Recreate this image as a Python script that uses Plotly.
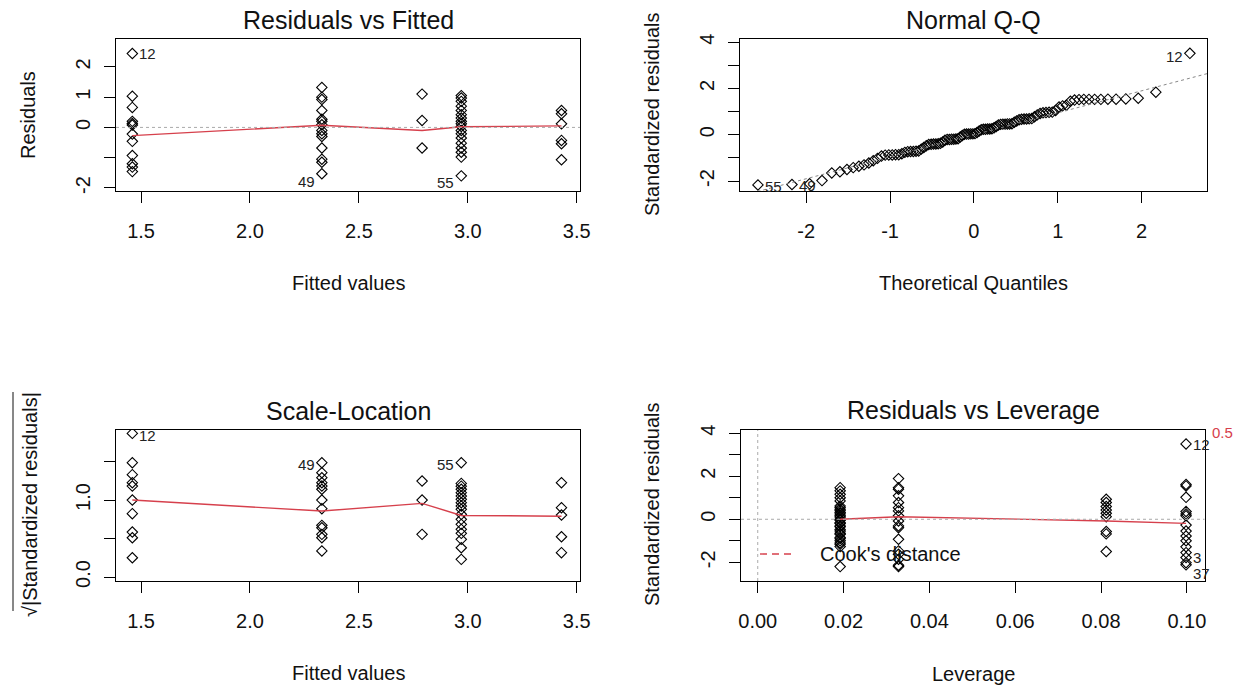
import plotly.graph_objects as go
from statistics import NormalDist

W, H = 1239, 687
FONT = "Liberation Sans, Arial, sans-serif"
RED = "#d6404c"
INK = "#111111"

# ---------------- data ----------------
# Residuals vs Fitted
fitted_levels = [1.46, 2.33, 2.79, 2.97, 3.43]
res_g1 = [2.44, 1.03, 0.66, 0.20, 0.13, 0.08, -0.22, -0.46, -0.93, -1.20, -1.31, -1.46]
res_g2 = [1.32, 1.00, 0.92, 0.56, 0.27, 0.20, 0.09, -0.10, -0.21, -0.30, -0.68, -1.05, -1.15, -1.53]
res_g3 = [1.10, 0.23, -0.68]
res_g4 = [1.05, 0.97, 0.86, 0.70, 0.56, 0.42, 0.31, 0.20, 0.12, 0.03, -0.10, -0.21,
          -0.35, -0.52, -0.68, -0.82, -0.98, -1.60]
res_g5 = [0.56, 0.45, 0.12, -0.43, -0.54, -1.07]
rvf_smooth = [-0.27, 0.07, -0.10, 0.02, 0.05]

# Normal Q-Q (sorted standardized residuals)
qq_std_resid = [
    -2.17, -2.15, -2.12, -1.98, -1.65, -1.60, -1.50, -1.42, -1.36, -1.30,
    -1.22, -1.12, -1.02, -0.92, -0.88, -0.87, -0.87, -0.86, -0.86, -0.82,
    -0.76, -0.73, -0.72, -0.72, -0.71, -0.70, -0.62, -0.55, -0.47, -0.42,
    -0.41, -0.40, -0.40, -0.39, -0.37, -0.31, -0.24, -0.20, -0.20, -0.19,
    -0.19, -0.18, -0.17, -0.10, -0.03, 0.02, 0.03, 0.03, 0.04, 0.04,
    0.05, 0.10, 0.16, 0.22, 0.24, 0.24, 0.25, 0.25, 0.26, 0.30,
    0.36, 0.42, 0.45, 0.46, 0.46, 0.47, 0.47, 0.48, 0.54, 0.60,
    0.65, 0.67, 0.68, 0.68, 0.69, 0.70, 0.78, 0.86, 0.92, 0.95,
    0.96, 0.97, 0.98, 1.05, 1.20, 1.25, 1.28, 1.45, 1.50, 1.52,
    1.53, 1.53, 1.53, 1.53, 1.54, 1.54, 1.55, 1.58, 1.84, 3.52,
]
qq_line_intercept = 0.0
qq_line_slope = 0.95

# Scale-Location
sl_g1 = [1.866, 1.485, 1.33, 1.225, 1.182, 1.0, 0.823, 0.584, 0.51, 0.25]
sl_g2 = [1.485, 1.355, 1.29, 1.225, 1.182, 1.14, 1.0, 0.887, 0.671, 0.64, 0.554, 0.51, 0.338]
sl_g3 = [1.247, 1.0, 0.554]
sl_g4 = [1.485, 1.216, 1.18, 1.14, 1.095, 1.052, 1.009, 0.965, 0.922, 0.879, 0.814,
         0.749, 0.684, 0.619, 0.567, 0.489, 0.38, 0.229]
sl_g5 = [1.225, 0.9, 0.805, 0.523, 0.316]
sl_smooth = [1.0, 0.857, 0.957, 0.80, 0.79]

# Residuals vs Leverage
leverage_levels = [0.0192, 0.0328, 0.0812, 0.0998]
sr_l1 = [1.47, 1.32, 1.16, 1.0, 0.85, 0.62, 0.55, 0.47, 0.40, 0.31, 0.25, 0.16, 0.10, 0.0,
         -0.05, -0.16, -0.20, -0.31, -0.35, -0.47, -0.55, -0.65, -0.70, -0.85, -0.90,
         -1.0, -1.10, -1.16, -1.27, -2.2]
sr_l2 = [1.89, 1.47, 1.40, 1.09, 0.78, 0.54, 0.39, 0.16, -0.08, -0.31, -0.39, -0.93,
         -1.47, -1.63, -1.86, -2.14, -2.2]
sr_l3 = [0.93, 0.78, 0.59, 0.43, 0.28, 0.12, -0.57, -0.68, -1.5]
sr_l4 = [3.50, 1.62, 1.55, 1.02, 0.36, 0.25, 0.16, -0.27, -0.55, -0.78, -1.0, -1.28,
         -1.55, -1.78, -2.02, -2.12]
rvl_smooth = [0.0, 0.12, -0.08, -0.19]

# tick labels
fit_ticks = [1.5, 2.0, 2.5, 3.0, 3.5]
fit_ticktext = ["1.5", "2.0", "2.5", "3.0", "3.5"]
res_ticks = [-2, -1, 0, 1, 2]
res_ticktext = ["-2", "", "0", "1", "2"]
qqx_ticks = [-2, -1, 0, 1, 2]
qqx_ticktext = ["-2", "-1", "0", "1", "2"]
sr_ticks = [-2, -1, 0, 1, 2, 3, 4]
sr_ticktext = ["-2", "", "0", "", "2", "", "4"]
sl_ticks = [0.0, 0.5, 1.0, 1.5]
sl_ticktext = ["0.0", "", "1.0", ""]
lev_ticks = [0.00, 0.02, 0.04, 0.06, 0.08, 0.10]
lev_ticktext = ["0.00", "0.02", "0.04", "0.06", "0.08", "0.10"]

# ---------------- layout geometry (pixels) ----------------
def px_x(p):
    return p / W

def px_y(p):
    return 1 - p / H

P1 = dict(x=(116, 580), y=(39, 191))
P2 = dict(x=(740, 1207), y=(39, 191))
P3 = dict(x=(116, 580), y=(430, 581))
P4 = dict(x=(741, 1204.5), y=(430, 581))

fig = go.Figure()

def pts(xv, yv, xa, ya):
    fig.add_trace(go.Scatter(
        x=xv, y=yv, mode="markers", xaxis=xa, yaxis=ya, showlegend=False,
        marker=dict(symbol="diamond-open", size=8, color="black", line=dict(width=1.1, color="black")),
        hoverinfo="x+y"))

def smooth(xv, yv, xa, ya, dash="solid"):
    fig.add_trace(go.Scatter(
        x=xv, y=yv, mode="lines", xaxis=xa, yaxis=ya, showlegend=False,
        line=dict(color=RED, width=1.4, dash=dash), hoverinfo="skip"))

# Panel 1
for lvl, grp in zip(fitted_levels, [res_g1, res_g2, res_g3, res_g4, res_g5]):
    pts([lvl] * len(grp), grp, "x", "y")
smooth(fitted_levels, rvf_smooth, "x", "y")

# Panel 2
n = len(qq_std_resid)
nd = NormalDist()
qq_theo = [nd.inv_cdf((i + 0.5) / n) for i in range(n)]
pts(qq_theo, qq_std_resid, "x2", "y2")
qq_xr = [-2.79, 2.78]
fig.add_trace(go.Scatter(
    x=qq_xr, y=[qq_line_intercept + qq_line_slope * v for v in qq_xr], mode="lines",
    xaxis="x2", yaxis="y2", showlegend=False, hoverinfo="skip",
    line=dict(color="#888888", width=1, dash="dot")))

# Panel 3
for lvl, grp in zip(fitted_levels, [sl_g1, sl_g2, sl_g3, sl_g4, sl_g5]):
    pts([lvl] * len(grp), grp, "x3", "y3")
smooth(fitted_levels, sl_smooth, "x3", "y3")

# Panel 4
for lvl, grp in zip(leverage_levels, [sr_l1, sr_l2, sr_l3, sr_l4]):
    pts([lvl] * len(grp), grp, "x4", "y4")
smooth(leverage_levels, rvl_smooth, "x4", "y4")

# ---------------- axes ----------------
def axis(domain, rng, tv, tt, anchor, is_y=False):
    d = dict(
        domain=domain, range=rng, tickmode="array", tickvals=tv, ticktext=tt,
        showline=True, mirror=True, linecolor="black", linewidth=1,
        ticks="outside", ticklen=11, tickwidth=1, tickcolor="black",
        showgrid=False, zeroline=False, anchor=anchor, automargin=False,
        tickfont=dict(family=FONT, size=20, color=INK),
    )
    if is_y:
        d["tickangle"] = -90
        d["ticklabelstandoff"] = 6
    else:
        d["ticklabelstandoff"] = 11
    return d

def dom_x(P):
    return [px_x(P["x"][0]), px_x(P["x"][1])]

def dom_y(P):
    return [px_y(P["y"][1]), px_y(P["y"][0])]

fig.update_layout(
    width=W, height=H, margin=dict(l=0, r=0, t=0, b=0),
    paper_bgcolor="white", plot_bgcolor="white", showlegend=False,
    font=dict(family=FONT, color=INK),
    xaxis=axis(dom_x(P1), [1.385, 3.515], fit_ticks, fit_ticktext, "y"),
    yaxis=axis(dom_y(P1), [-2.10, 2.92], res_ticks, res_ticktext, "x", True),
    xaxis2=axis(dom_x(P2), [-2.79, 2.78], qqx_ticks, qqx_ticktext, "y2"),
    yaxis2=axis(dom_y(P2), [-2.43, 4.14], sr_ticks, sr_ticktext, "x2", True),
    xaxis3=axis(dom_x(P3), [1.385, 3.515], fit_ticks, fit_ticktext, "y3"),
    yaxis3=axis(dom_y(P3), [-0.052, 1.91], sl_ticks, sl_ticktext, "x3", True),
    xaxis4=axis(dom_x(P4), [-0.0039, 0.1041], lev_ticks, lev_ticktext, "y4"),
    yaxis4=axis(dom_y(P4), [-2.87, 4.15], sr_ticks, sr_ticktext, "x4", True),
)

# reference lines (gray dotted)
ref = dict(color="#aaaaaa", width=1, dash="dot")
fig.add_shape(type="line", xref="x domain", yref="y", x0=0, x1=1, y0=0, y1=0, line=ref)
fig.add_shape(type="line", xref="x4 domain", yref="y4", x0=0, x1=1, y0=0, y1=0, line=ref)
fig.add_shape(type="line", xref="x4", yref="y4 domain", x0=0, x1=0, y0=0, y1=1, line=ref)

# ---------------- text ----------------
ann = []

def ptext(txt, x, y, size=20, angle=0, color=INK, xanchor="center"):
    ann.append(dict(text=txt, x=px_x(x), y=px_y(y), xref="paper", yref="paper",
                    showarrow=False, textangle=angle, xanchor=xanchor, yanchor="middle",
                    font=dict(family=FONT, size=size, color=color)))

# titles
ptext("Residuals vs Fitted", 348, 20, 25)
ptext("Normal Q-Q", 973, 20, 25)
ptext("Scale-Location", 348, 411, 25)
ptext("Residuals vs Leverage", 973, 410, 25)
# axis titles
ptext("Fitted values", 348, 283)
ptext("Theoretical Quantiles", 973, 283)
ptext("Fitted values", 348, 673)
ptext("Leverage", 973, 674)
ptext("Residuals", 28, 115, angle=-90)
ptext("Standardized residuals", 652, 115, angle=-90)
ptext("√|Standardized residuals|", 30, 505, angle=-90)
ptext("Standardized residuals", 652, 505, angle=-90)
# Cook's distance legend + contour label
ptext("Cook's distance", 818, 554, 20, xanchor="left")
ptext("0.5", 1222, 432, 15, color=RED)
fig.add_shape(type="line", xref="paper", yref="paper", x0=px_x(760), x1=px_x(796),
              y0=px_y(554), y1=px_y(554), line=dict(color=RED, width=1.4, dash="7px,5px"))
# radical overline
fig.add_shape(type="line", xref="paper", yref="paper", x0=px_x(13), x1=px_x(13),
              y0=px_y(392), y1=px_y(611), line=dict(color=INK, width=1))

def idlabel(txt, x, y, xa, ya, side, yshift=0):
    ann.append(dict(text=txt, x=x, y=y, xref=xa, yref=ya, showarrow=False,
                    xanchor="left" if side == "r" else "right", yanchor="middle",
                    xshift=5 if side == "r" else -5, yshift=yshift,
                    font=dict(family=FONT, size=15, color="#222222")))

idlabel("12", fitted_levels[0], res_g1[0], "x", "y", "r")
idlabel("49", fitted_levels[1], res_g2[-1], "x", "y", "l", -8)
idlabel("55", fitted_levels[3], res_g4[-1], "x", "y", "l", -7)
idlabel("55", qq_theo[0], qq_std_resid[0], "x2", "y2", "r", -2)
idlabel("49", qq_theo[1], qq_std_resid[1], "x2", "y2", "r", -1)
idlabel("12", qq_theo[-1], qq_std_resid[-1], "x2", "y2", "l", -3)
idlabel("12", fitted_levels[0], sl_g1[0], "x3", "y3", "r", -2)
idlabel("49", fitted_levels[1], sl_g2[0], "x3", "y3", "l", -2)
idlabel("55", fitted_levels[3], sl_g4[0], "x3", "y3", "l", -2)
idlabel("12", leverage_levels[3], sr_l4[0], "x4", "y4", "r", -1)
idlabel("3", leverage_levels[3], sr_l4[-2], "x4", "y4", "r", 5)
idlabel("37", leverage_levels[3], sr_l4[-1], "x4", "y4", "r", -9)

fig.update_layout(annotations=ann)
fig.write_html("out.html")
